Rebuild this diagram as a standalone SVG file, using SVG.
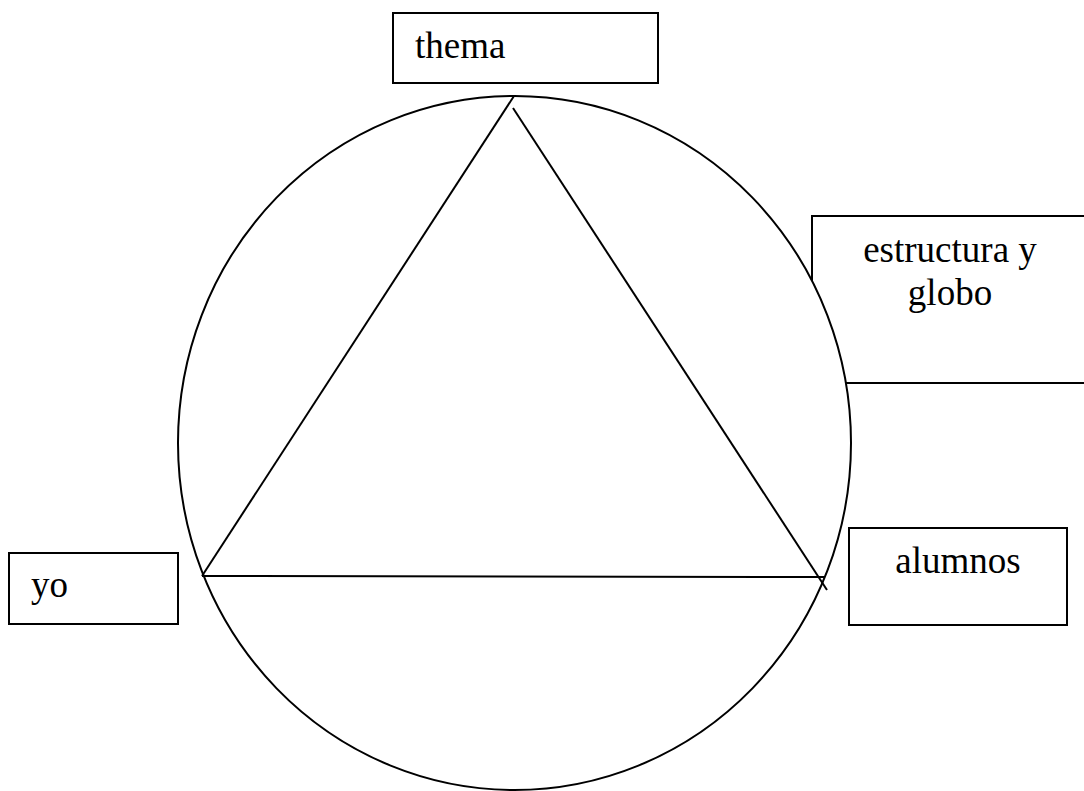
<svg xmlns="http://www.w3.org/2000/svg" width="1084" height="791" viewBox="0 0 1084 791">
<style>
.box{fill:#fff;stroke:#000;stroke-width:2}
.t{font-family:"Liberation Serif","Times New Roman",serif;font-size:37px;fill:#000}
.ln{stroke:#000;stroke-width:2;fill:none}
</style>
<rect width="1084" height="791" fill="#fff"/>
<g id="estructura">
<rect class="box" x="812" y="216" width="290" height="167"/>
</g>
<g id="circle">
<ellipse cx="514.5" cy="443" rx="336.5" ry="347" fill="#fff" stroke="#000" stroke-width="2"/>
</g>
<g id="estructura-label">
<text class="t" x="950" y="262" text-anchor="middle">estructura y</text>
<text class="t" x="950" y="305" text-anchor="middle">globo</text>
</g>
<g id="thema">
<rect class="box" x="393" y="13" width="265" height="70"/>
<text class="t" x="415" y="58">thema</text>
</g>
<g id="alumnos">
<rect class="box" x="849" y="528" width="218" height="97"/>
<text class="t" x="958" y="573" text-anchor="middle">alumnos</text>
</g>
<g id="yo">
<rect class="box" x="9" y="553" width="169" height="71"/>
<text class="t" x="31" y="597">yo</text>
</g>
<g id="connectors">
<line class="ln" x1="514" y1="96" x2="202" y2="576"/>
<line class="ln" x1="513" y1="108" x2="827" y2="590"/>
<line class="ln" x1="202" y1="576" x2="825" y2="577"/>
</g>
</svg>
